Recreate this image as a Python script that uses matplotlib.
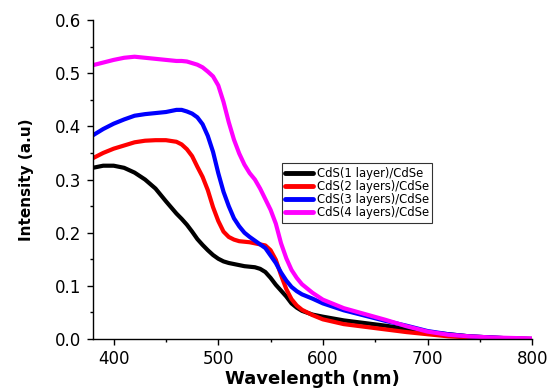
import matplotlib
matplotlib.use("Agg")
import matplotlib.pyplot as plt
from matplotlib.ticker import MultipleLocator, FormatStrFormatter

plt.rcParams['font.family'] = ['DejaVu Sans']

wavelength = [380, 390, 400, 410, 420, 430, 440, 450, 460, 465, 470, 475, 480, 485,
              490, 495, 500, 505, 510, 515, 520, 525, 530, 535, 540, 545, 550, 555,
              560, 565, 570, 575, 580, 590, 600, 620, 640, 660, 680, 700, 720, 740,
              760, 780, 800]

cds1 = [0.322, 0.326, 0.326, 0.322, 0.313, 0.300, 0.283, 0.259, 0.236, 0.226, 0.215,
        0.202, 0.188, 0.177, 0.167, 0.158, 0.151, 0.146, 0.143, 0.141, 0.139, 0.137,
        0.136, 0.135, 0.132, 0.126, 0.115, 0.102, 0.091, 0.080, 0.067, 0.059, 0.053,
        0.046, 0.042, 0.035, 0.030, 0.025, 0.019, 0.013, 0.009, 0.005, 0.003, 0.001,
        0.000]

cds2 = [0.340, 0.350, 0.358, 0.364, 0.370, 0.373, 0.374, 0.374, 0.371, 0.366, 0.357,
        0.344, 0.324, 0.305, 0.280, 0.248, 0.222, 0.202, 0.192, 0.187, 0.184, 0.183,
        0.182, 0.180, 0.178, 0.176, 0.167, 0.149, 0.120, 0.094, 0.075, 0.063, 0.055,
        0.045, 0.037, 0.028, 0.023, 0.018, 0.013, 0.009, 0.005, 0.003, 0.002, 0.001,
        0.000]

cds3 = [0.383, 0.395, 0.405, 0.413, 0.420, 0.423, 0.425, 0.427, 0.431, 0.431, 0.428,
        0.424, 0.417, 0.404, 0.382, 0.352, 0.312, 0.277, 0.250, 0.227, 0.212, 0.200,
        0.192, 0.185, 0.178, 0.171, 0.157, 0.143, 0.125, 0.110, 0.098, 0.090, 0.084,
        0.076, 0.067, 0.054, 0.044, 0.034, 0.025, 0.015, 0.009, 0.005, 0.003, 0.001,
        0.000]

cds4 = [0.515, 0.520, 0.525, 0.529, 0.531, 0.529, 0.527, 0.525, 0.523, 0.523, 0.522,
        0.519, 0.516, 0.511, 0.503, 0.494, 0.477, 0.446, 0.408, 0.375, 0.349, 0.328,
        0.312, 0.300, 0.283, 0.263, 0.243, 0.217, 0.180, 0.152, 0.130, 0.115, 0.103,
        0.087, 0.074, 0.058, 0.047, 0.036, 0.024, 0.014, 0.008, 0.005, 0.003, 0.002,
        0.001]

labels = ['CdS(1 layer)/CdSe', 'CdS(2 layers)/CdSe', 'CdS(3 layers)/CdSe', 'CdS(4 layers)/CdSe']
colors = ['#000000', '#ff0000', '#0000ff', '#ff00ff']
series = [cds1, cds2, cds3, cds4]

fig = plt.figure(figsize=(5.52, 3.89), dpi=100)
ax = fig.add_axes([0.168, 0.1285, 0.796, 0.820])

for y, c, lab in zip(series, colors, labels):
    ax.plot(wavelength, y, color=c, lw=3.0, label=lab, solid_joinstyle='round',
            solid_capstyle='round')

ax.set_xlim(380, 800)
ax.set_ylim(0, 0.6)
ax.xaxis.set_major_locator(MultipleLocator(100))
ax.xaxis.set_minor_locator(MultipleLocator(50))
ax.yaxis.set_major_locator(MultipleLocator(0.1))
ax.yaxis.set_minor_locator(MultipleLocator(0.05))
ax.yaxis.set_major_formatter(FormatStrFormatter('%.1f'))

for s in ['top', 'right']:
    ax.spines[s].set_visible(False)
for s in ['left', 'bottom']:
    ax.spines[s].set_linewidth(1.0)

ax.tick_params(which='major', direction='out', length=4.5, width=1, labelsize=12)
ax.tick_params(which='minor', direction='out', length=2.5, width=1)

ax.set_xlabel('Wavelength (nm)', fontsize=13, fontweight='bold', labelpad=1.5)
ax.set_ylabel('Intensity (a.u)', fontsize=11, fontweight='bold', labelpad=15)

leg = ax.legend(loc='lower left', bbox_to_anchor=(0.430, 0.364), fontsize=8.4,
                frameon=True, fancybox=False, edgecolor='black', handlelength=2.4,
                handletextpad=0.3, borderpad=0.3, labelspacing=0.02,
                borderaxespad=0)
leg.get_frame().set_linewidth(0.8)
for line in leg.get_lines():
    line.set_linewidth(3.5)

fig.savefig('out.png', dpi=100)
